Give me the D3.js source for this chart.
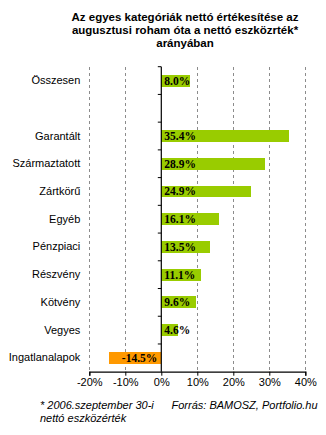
<!DOCTYPE html>
<html><head><meta charset="utf-8">
<script src="https://cdn.jsdelivr.net/npm/d3@7"></script>
<style>body{margin:0;background:#fff}svg{display:block}</style>
</head><body>
<script>
const titleLines = ["Az egyes kategóriák nettó értékesítése az","augusztusi roham óta a nettó eszközrték*","arányában"];
const categories = ["Összesen","_blank","Garantált","Származtatott","Zártkörű","Egyéb","Pénzpiaci","Részvény","Kötvény","Vegyes","Ingatlanalapok"];
const values = [8.0,null,35.4,28.9,24.9,16.1,13.5,11.1,9.6,4.6,-14.5];
const xTicks = [-20,-10,0,10,20,30,40];
const footLeft = ["* 2006.szeptember 30-i","nettó eszközérték"];
const footRight = "Forrás: BAMOSZ, Portfolio.hu";

const W=326,H=435;
const svg=d3.select("body").append("svg").attr("width",W).attr("height",H);
const x=d3.scaleLinear().domain([-20,40]).range([89.3,305.3]);
const y=d3.scaleBand().domain(categories).range([66.7,371.7]).paddingInner(0.57).paddingOuter(0.285);
const step=y.step();

// title
svg.append("g").selectAll("text").data(titleLines).join("text")
  .attr("x",185).attr("y",(d,i)=>21+i*13).attr("text-anchor","middle")
  .attr("font-family","Liberation Sans, Arial, sans-serif").attr("font-weight","bold").attr("font-size",11.5)
  .text(d=>d);

// gridlines
svg.append("g").selectAll("line").data(xTicks.filter(t=>t!==0)).join("line")
  .attr("x1",d=>x(d)).attr("x2",d=>x(d)).attr("y1",66.7).attr("y2",371.7)
  .attr("stroke","#8c8c8c").attr("stroke-width",1).attr("stroke-dasharray","3,3")
  .attr("shape-rendering","crispEdges");

// bars
const data=categories.map((c,i)=>({c,v:values[i]})).filter(d=>d.v!==null);
svg.append("g").selectAll("rect").data(data).join("rect")
  .attr("x",d=>x(Math.min(0,d.v))).attr("width",d=>Math.abs(x(d.v)-x(0)))
  .attr("y",d=>y(d.c)).attr("height",y.bandwidth())
  .attr("fill",d=>d.v<0?"#FF9900":"#99CC00").attr("shape-rendering","crispEdges");

// x axis
const xAxis=d3.axisBottom(x).tickValues(xTicks).tickSize(4).tickFormat(d=>d+"%");
const gx=svg.append("g").attr("transform","translate(0,371.7)").call(xAxis);
gx.select(".domain").attr("stroke","#000").attr("stroke-width",1.2);
gx.selectAll(".tick line").attr("stroke","#000");
gx.selectAll(".tick text").attr("font-family","Liberation Sans, Arial, sans-serif").attr("font-size",11).attr("fill","#000").attr("dy","0.9em").attr("y",4);

// y axis labels
const yAxis=d3.axisLeft(y).tickSize(0).tickFormat(d=>d==="_blank"?"":d);
const gy=svg.append("g").attr("transform",`translate(${x(-20)-1},0)`).call(yAxis);
gy.select(".domain").remove();
gy.selectAll(".tick text").attr("x",-8).attr("font-family","Liberation Sans, Arial, sans-serif").attr("font-size",11).attr("fill","#000");

// zero axis with ticks
svg.append("line").attr("x1",x(0)).attr("x2",x(0)).attr("y1",66.7).attr("y2",371.7).attr("stroke","#000").attr("stroke-width",1.2);
svg.append("g").selectAll("line").data(d3.range(categories.length)).join("line")
  .attr("x1",x(0)-3.5).attr("x2",x(0)).attr("y1",i=>66.7+i*step).attr("y2",i=>66.7+i*step)
  .attr("stroke","#000").attr("stroke-width",1);

// labels
svg.append("g").selectAll("text").data(data).join("text")
  .attr("x",d=>d.v<0?x(0)-4:x(0)+3).attr("text-anchor",d=>d.v<0?"end":"start")
  .attr("y",d=>y(d.c)+y.bandwidth()/2+4)
  .attr("font-family","Liberation Serif, Times New Roman, serif").attr("font-weight","bold").attr("font-size",11.5)
  .text(d=>d.v.toFixed(1)+"%");

// footnotes
svg.append("g").selectAll("text").data(footLeft).join("text")
  .attr("x",40).attr("y",(d,i)=>409+i*13)
  .attr("font-family","Liberation Sans, Arial, sans-serif").attr("font-style","italic").attr("font-size",11)
  .text(d=>d);
svg.append("text").attr("x",171.5).attr("y",409)
  .attr("font-family","Liberation Sans, Arial, sans-serif").attr("font-style","italic").attr("font-size",11)
  .text(footRight);
</script>
</body></html>
